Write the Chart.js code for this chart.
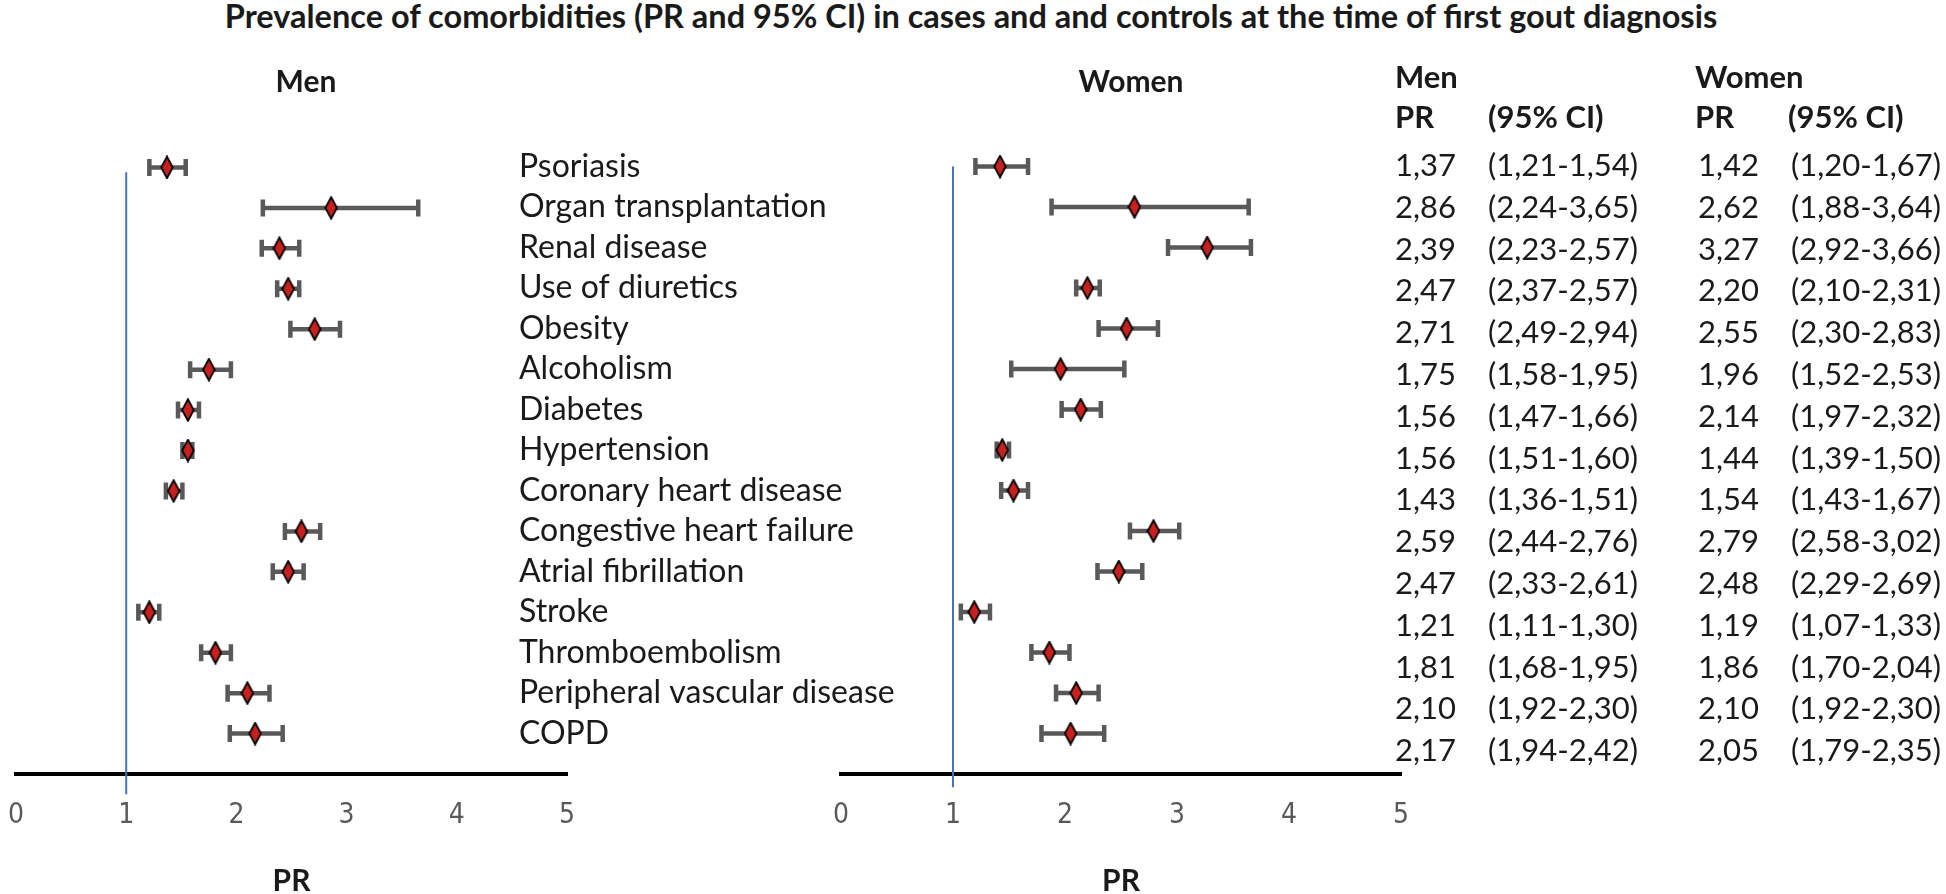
<!DOCTYPE html>
<html>
<head>
<meta charset="utf-8">
<script src="https://cdn.jsdelivr.net/npm/chart.js@4.4.1/dist/chart.umd.min.js"></script>
<style>
  html, body { margin: 0; padding: 0; background: #ffffff; }
  body { width: 1946px; height: 894px; overflow: hidden; position: relative;
         font-family: Lato, 'Open Sans', sans-serif; color: #1a1a1a; }
  #title { position: absolute; left: 0; width: 1942px; top: -4px; text-align: center;
           font-weight: bold; font-size: 32.5px; line-height: 40px; white-space: nowrap; }
  canvas { position: absolute; top: 0; }
  #menCanvas { left: -20px; }
  #womenCanvas { left: 519px; }
  .cell { position: absolute; font-size: 31px; height: 42px; line-height: 42px; white-space: nowrap; }
  .bold { font-weight: bold; }
</style>
</head>
<body>
<div id="title">Prevalence of comorbidities (PR and 95% CI) in cases and and controls at the time of first gout diagnosis</div>
<canvas id="menCanvas" width="627" height="900" style="width:627px;height:900px"></canvas>
<canvas id="womenCanvas" width="1224" height="900" style="width:1224px;height:900px"></canvas>
<div id="table"></div>
<script>
// ---------------- data ----------------
const categories = ["Psoriasis", "Organ transplantation", "Renal disease", "Use of diuretics", "Obesity",
  "Alcoholism", "Diabetes", "Hypertension", "Coronary heart disease", "Congestive heart failure",
  "Atrial fibrillation", "Stroke", "Thromboembolism", "Peripheral vascular disease", "COPD"];

const menPR = [1.37, 2.86, 2.39, 2.47, 2.71, 1.75, 1.56, 1.56, 1.43, 2.59, 2.47, 1.21, 1.81, 2.10, 2.17];
const menLo = [1.21, 2.24, 2.23, 2.37, 2.49, 1.58, 1.47, 1.51, 1.36, 2.44, 2.33, 1.11, 1.68, 1.92, 1.94];
const menHi = [1.54, 3.65, 2.57, 2.57, 2.94, 1.95, 1.66, 1.60, 1.51, 2.76, 2.61, 1.30, 1.95, 2.30, 2.42];

const womenPR = [1.42, 2.62, 3.27, 2.20, 2.55, 1.96, 2.14, 1.44, 1.54, 2.79, 2.48, 1.19, 1.86, 2.10, 2.05];
const womenLo = [1.20, 1.88, 2.92, 2.10, 2.30, 1.52, 1.97, 1.39, 1.43, 2.58, 2.29, 1.07, 1.70, 1.92, 1.79];
const womenHi = [1.67, 3.64, 3.66, 2.31, 2.83, 2.53, 2.32, 1.50, 1.67, 3.02, 2.69, 1.33, 2.04, 2.30, 2.35];

const xMin = 0, xMax = 5;           // PR axis range
const rowMin = 0, rowMax = 16;      // row axis range (rows 1..15)
const refValue = 1;                 // PR = 1 reference line
const menRefLine = [1.12, 16.5];    // row extent of the reference line (men)
const womenRefLine = [1.0, 16.33];  // row extent of the reference line (women)

const rows = categories.map((_, i) => i + 1);

// ---------------- styling helpers ----------------
const FONT = "Lato, 'Open Sans', sans-serif";
const TICKFONT = "'Liberation Sans Narrow', 'DejaVu Sans Condensed', 'Roboto', sans-serif";

function makeDiamond() {
  const c = document.createElement('canvas');
  c.width = 14; c.height = 24;
  const g = c.getContext('2d');
  g.beginPath();
  g.moveTo(7, 1.2); g.lineTo(12.8, 12); g.lineTo(7, 22.8); g.lineTo(1.2, 12); g.closePath();
  g.fillStyle = '#C8201E'; g.fill();
  g.lineWidth = 1.8; g.strokeStyle = '#000000'; g.stroke();
  return c;
}
const diamond = makeDiamond();

const errorBarPlugin = {
  id: 'errorBars',
  beforeDatasetsDraw(chart, args, opts) {
    const ctx = chart.ctx;
    const xs = chart.scales.x, ys = chart.scales.y;
    chart.data.datasets.forEach(ds => {
      if (!ds.errorBars) return;
      ctx.save();
      ctx.strokeStyle = opts.color;
      ctx.lineWidth = opts.width;
      ctx.lineCap = 'butt';
      ds.data.forEach(p => {
        const py = ys.getPixelForValue(p.y);
        const x1 = xs.getPixelForValue(p.xMin);
        const x2 = xs.getPixelForValue(p.xMax);
        const h = opts.cap / 2;
        ctx.beginPath();
        ctx.moveTo(x1, py); ctx.lineTo(x2, py);
        ctx.moveTo(x1, py - h); ctx.lineTo(x1, py + h);
        ctx.moveTo(x2, py - h); ctx.lineTo(x2, py + h);
        ctx.stroke();
      });
      ctx.restore();
    });
  }
};

function panelConfig(o) {
  return {
    type: 'scatter',
    data: {
      datasets: [
        {
          label: o.title + ' PR (95% CI)',
          data: o.pr.map((v, i) => ({ x: v, y: rows[i], xMin: o.lo[i], xMax: o.hi[i] })),
          errorBars: true,
          pointStyle: diamond,
          pointRadius: 6,
          pointHoverRadius: 6,
          yAxisID: 'y'
        },
        {
          label: 'PR = 1',
          data: o.ref.map(v => ({ x: refValue, y: v })),
          showLine: true,
          borderColor: '#4472C4',
          borderWidth: 2,
          pointRadius: 0,
          pointHoverRadius: 0,
          clip: false,
          yAxisID: 'y'
        }
      ]
    },
    options: {
      responsive: false,
      animation: false,
      devicePixelRatio: 1,
      events: [],
      layout: { padding: { left: o.padLeft, right: 0, top: 0, bottom: 0 } },
      plugins: {
        legend: { display: false },
        tooltip: { enabled: false },
        title: {
          display: true, text: o.title, color: '#1a1a1a',
          font: { family: FONT, size: 30, weight: 'bold', lineHeight: 1.2 },
          padding: { top: 64, bottom: o.titleBottom }
        },
        errorBars: { color: '#595959', width: 4.5, cap: 17 }
      },
      scales: {
        x: {
          type: 'linear', min: xMin, max: xMax,
          grid: { display: false, drawTicks: false },
          border: { display: true, color: '#000000', width: 4 },
          ticks: { stepSize: 1, padding: 28, color: '#595959',
                   font: { family: TICKFONT, size: 28, lineHeight: 1 } },
          title: { display: true, text: 'PR', color: '#1a1a1a',
                   font: { family: FONT, size: 30, weight: 'bold', lineHeight: 1 },
                   padding: { top: 8, bottom: 4 } }
        },
        y: {
          type: 'linear', position: 'left', reverse: true, min: rowMin, max: rowMax,
          grid: { display: false, drawTicks: false },
          border: { display: false },
          afterBuildTicks: s => { s.ticks = rows.map(v => ({ value: v })); },
          afterFit: s => { s.width = o.leftWidth; },
          ticks: {
            display: o.showLabels, autoSkip: false, mirror: true, crossAlign: 'near',
            padding: -o.leftWidth,
            color: '#1a1a1a', font: { family: FONT, size: 32, lineHeight: 1.2 },
            callback: v => categories[v - 1] ?? ''
          }
        },
        y2: {
          type: 'linear', position: 'right',
          grid: { display: false, drawTicks: false },
          border: { display: false },
          ticks: { display: false },
          afterFit: s => { s.width = o.rightWidth; }
        }
      }
    },
    plugins: [errorBarPlugin]
  };
}

new Chart(document.getElementById('menCanvas'), panelConfig({
  title: 'Men', pr: menPR, lo: menLo, hi: menHi, ref: menRefLine,
  padLeft: 25, leftWidth: 0, rightWidth: 40, showLabels: false, titleBottom: 27
}));

new Chart(document.getElementById('womenCanvas'), panelConfig({
  title: 'Women', pr: womenPR, lo: womenLo, hi: womenHi, ref: womenRefLine,
  padLeft: 0, leftWidth: 322, rightWidth: 342, showLabels: true, titleBottom: 26
}));

// ---------------- table of values ----------------
const fmt = v => v.toFixed(2).replace('.', ',');
const table = document.getElementById('table');
function cell(text, left, centerY, bold) {
  const d = document.createElement('div');
  d.className = 'cell' + (bold ? ' bold' : '');
  d.textContent = text;
  d.style.left = left + 'px';
  d.style.top = (centerY - 21) + 'px';
  table.appendChild(d);
}
cell('Men', 1395, 76, true);
cell('Women', 1695, 76, true);
cell('PR', 1395, 116, true);
cell('(95% CI)', 1488, 116, true);
cell('PR', 1695, 116, true);
cell('(95% CI)', 1788, 116, true);
categories.forEach((c, i) => {
  const cy = 164 + i * 41.8;
  cell(fmt(menPR[i]), 1395, cy, false);
  cell('(' + fmt(menLo[i]) + '-' + fmt(menHi[i]) + ')', 1488, cy, false);
  cell(fmt(womenPR[i]), 1698, cy, false);
  cell('(' + fmt(womenLo[i]) + '-' + fmt(womenHi[i]) + ')', 1791, cy, false);
});
</script>
</body>
</html>
